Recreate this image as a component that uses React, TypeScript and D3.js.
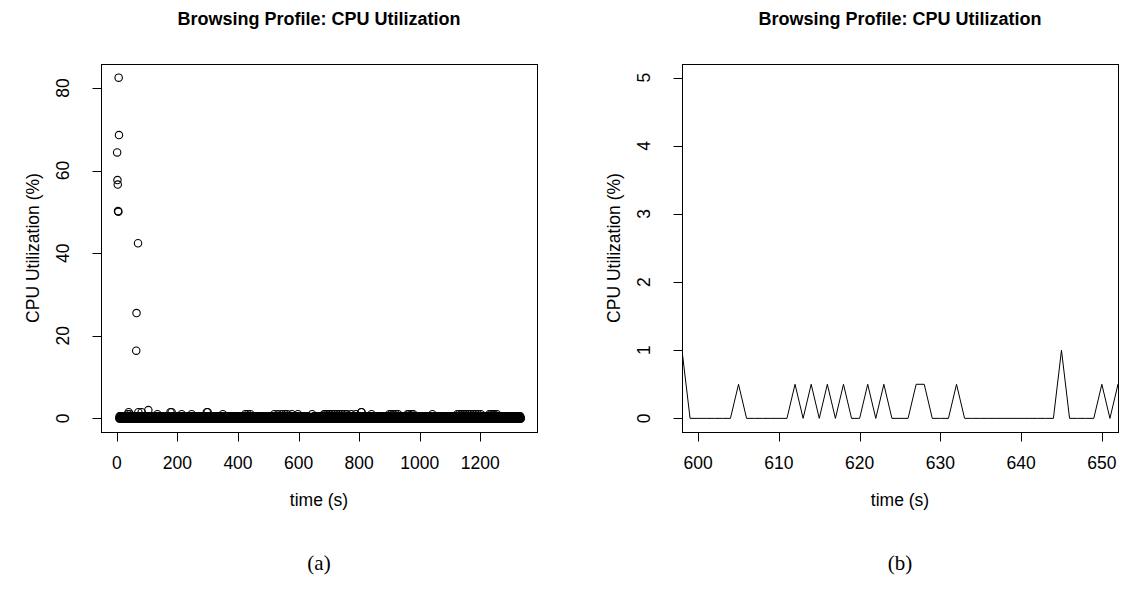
import React from "react";
import * as d3 from "d3";

// ---------- data ----------
// first seconds of the session (start-up spike)
const startupTimes = [1, 2, 3, 4, 5, 6, 7];
const startupValues = [64.4, 57.7, 56.6, 50.2, 50.0, 82.5, 68.6];
// isolated bursts a minute later
const burstTimes = [64, 65, 70];
const burstValues = [16.4, 25.5, 42.4];
// idle phase, one sample per second starting at t = 8,
// each digit is the CPU utilization in steps of 0.5 %
const idleStart = 8;
const idleUnit = 0.5;
const idleRows = [
  "0100101001" + "0001010010" + "1001001020" + "0301020010" + "1001000100", // 8-57
  "0010010100" + "1003001000" + "1010300100" + "0101001000" + "1001004010", // 58-107
  "0100100101" + "0010001001" + "0100102001" + "0010010100" + "1000100101", // 108-157
  "0010100100" + "1001000103" + "0103001001" + "0100100010" + "1001010010", // 158-207
  "0100002001" + "0010100100" + "1001001010" + "0100100102" + "0100100100", // 208-257
  "1001010010" + "0100100010" + "1010010010" + "0100100103" + "0030100100", // 258-307
  "1001001010" + "0100010010" + "0101001001" + "0010010100" + "0020010010", // 308-357
  "0100100101" + "0010010001" + "0100101001" + "0010100100" + "1001001010", // 358-407
  "0100100100" + "1001002010" + "0100200100" + "1002010010" + "0100100100", // 408-457
  "1001000101" + "0010010010" + "0100010010" + "1001001000" + "1001010010", // 458-507
  "0100100100" + "1020010010" + "0100200100" + "1001002010" + "0100100201", // 508-557
  "0010020010" + "0100100100" + "2001001010" + "0100100100" + "2000000100", // 558-607
  "0000101010" + "1001010001" + "1000100000" + "0000000200" + "0010100100", // 608-657
  "1001001010" + "0100100100" + "1001002010" + "0200100201" + "0010200100", // 658-707
  "1002001010" + "0200100102" + "0010010200" + "1001020010" + "0100200100", // 708-757
  "1020010010" + "0100102001" + "0010010010" + "0200100101" + "0010010013", // 758-807
  "3010010010" + "0100100101" + "0010010010" + "0102001001" + "0100100100", // 808-857
  "1001001010" + "0100100100" + "1001001010" + "0100100100" + "1020010020", // 858-907
  "0100200100" + "1002001010" + "0200100100" + "1001001010" + "0100100100", // 908-957
  "1020010200" + "1001020010" + "0201001001" + "0010010010" + "0100100101", // 958-1007
  "0010010010" + "0100100101" + "0010010010" + "0100200100" + "1001001010", // 1008-1057
  "0100100100" + "1001001010" + "0100100100" + "1001001010" + "0100100100", // 1058-1107
  "1001001010" + "0100102001" + "0020010010" + "2001001020" + "0100200100", // 1108-1157
  "1002001010" + "0200100102" + "0010010200" + "1001020010" + "0100200100", // 1158-1207
  "1001001010" + "0100100100" + "1020010200" + "1002001020" + "0100100200", // 1208-1257
  "1001001010" + "0100100100" + "1001001010" + "0100100100" + "1001001010", // 1258-1307
  "0100100100" + "1001001010" + "0100100", // 1308-1334
];

const leftXTicks = [0, 200, 400, 600, 800, 1000, 1200];
const leftYTicks = [0, 20, 40, 60, 80];
const zoomXLim = [600, 650];
const zoomYLim = [0, 5];
const zoomXTicks = [600, 610, 620, 630, 640, 650];
const zoomYTicks = [0, 1, 2, 3, 4, 5];

const titleText = "Browsing Profile: CPU Utilization";
const xLabelText = "time (s)";
const yLabelText = "CPU Utilization (%)";
const captionTexts = ["(a)", "(b)"];

// ---------- build series ----------
type Pt = { t: number; v: number };
const idleCodes = idleRows.join("");
const seriesMap = new Map<number, number>();
startupTimes.forEach((t, i) => seriesMap.set(t, startupValues[i]));
for (let i = 0; i < idleCodes.length; i++) {
  seriesMap.set(idleStart + i, Number(idleCodes[i]) * idleUnit);
}
burstTimes.forEach((t, i) => seriesMap.set(t, burstValues[i]));
const series: Pt[] = Array.from(seriesMap.entries())
  .map(([t, v]) => ({ t, v }))
  .sort((a, b) => a.t - b.t);

const rExtend = (d: [number, number]): [number, number] => {
  const span = d[1] - d[0];
  return [d[0] - 0.04 * span, d[1] + 0.04 * span];
};

const W = 1124;
const H = 590;
const SANS = "'Liberation Sans', Arial, Helvetica, sans-serif";
const SERIF = "'Liberation Serif', 'Times New Roman', serif";
const TICK = 9;
const AXIS_FS = 17.5;

type Box = { left: number; right: number; top: number; bottom: number };

function Frame({
  box,
  x,
  y,
  xTicks,
  yTicks,
  caption,
  children,
  clipId,
}: {
  box: Box;
  x: d3.ScaleLinear<number, number>;
  y: d3.ScaleLinear<number, number>;
  xTicks: number[];
  yTicks: number[];
  caption: string;
  children: React.ReactNode;
  clipId: string;
}) {
  const cx = (box.left + box.right) / 2;
  const cy = (box.top + box.bottom) / 2;
  return (
    <g>
      <defs>
        <clipPath id={clipId}>
          <rect x={box.left} y={box.top} width={box.right - box.left} height={box.bottom - box.top} />
        </clipPath>
      </defs>
      <text x={cx} y={25} textAnchor="middle" fontFamily={SANS} fontWeight="bold" fontSize={18}>
        {titleText}
      </text>
      <g clipPath={`url(#${clipId})`}>{children}</g>
      <rect
        x={box.left + 0.5}
        y={box.top + 0.5}
        width={box.right - box.left}
        height={box.bottom - box.top}
        fill="none"
        stroke="#000"
        strokeWidth={1}
      />
      {xTicks.map((t) => {
        const px = Math.round(x(t)) + 0.5;
        return (
          <g key={"x" + t}>
            <line x1={px} x2={px} y1={box.bottom + 0.5} y2={box.bottom + 0.5 + TICK} stroke="#000" />
            <text x={x(t)} y={463} dy="0.35em" textAnchor="middle" fontFamily={SANS} fontSize={AXIS_FS}>
              {t}
            </text>
          </g>
        );
      })}
      {yTicks.map((t) => {
        const py = Math.round(y(t)) + 0.5;
        return (
          <g key={"y" + t}>
            <line x1={box.left + 0.5 - TICK} x2={box.left + 0.5} y1={py} y2={py} stroke="#000" />
            <text
              transform={`translate(${box.left - 38},${y(t)}) rotate(-90)`}
              dy="0.35em"
              textAnchor="middle"
              fontFamily={SANS}
              fontSize={AXIS_FS}
            >
              {t}
            </text>
          </g>
        );
      })}
      <text x={cx} y={500} dy="0.35em" textAnchor="middle" fontFamily={SANS} fontSize={AXIS_FS}>
        {xLabelText}
      </text>
      <text
        transform={`translate(${box.left - 68},${cy}) rotate(-90)`}
        dy="0.35em"
        textAnchor="middle"
        fontFamily={SANS}
        fontSize={AXIS_FS}
      >
        {yLabelText}
      </text>
      <text x={cx} y={563} dy="0.35em" textAnchor="middle" fontFamily={SERIF} fontSize={21}>
        {caption}
      </text>
    </g>
  );
}

export default function App() {
  const boxA: Box = { left: 101, right: 537, top: 64, bottom: 432 };
  const boxB: Box = { left: 682, right: 1118, top: 64, bottom: 432 };

  const xA = d3
    .scaleLinear()
    .domain(rExtend(d3.extent(series, (d) => d.t) as [number, number]))
    .range([boxA.left, boxA.right]);
  const yA = d3
    .scaleLinear()
    .domain(rExtend(d3.extent(series, (d) => d.v) as [number, number]))
    .range([boxA.bottom, boxA.top]);

  const xB = d3.scaleLinear().domain(rExtend(zoomXLim as [number, number])).range([boxB.left, boxB.right]);
  const yB = d3.scaleLinear().domain(rExtend(zoomYLim as [number, number])).range([boxB.bottom, boxB.top]);
  const [bx0, bx1] = xB.domain();
  const zoomSeries = series.filter((d) => d.t >= bx0 - 1 && d.t <= bx1 + 1);
  const linePath = d3
    .line<Pt>()
    .x((d) => xB(d.t))
    .y((d) => yB(d.v))(zoomSeries) as string;

  return (
    <svg
      width={W}
      height={H}
      viewBox={`0 0 ${W} ${H}`}
      style={{ position: "absolute", left: 0, top: 0, background: "#fff" }}
    >
      <rect x={0} y={0} width={W} height={H} fill="#fff" />
      <Frame box={boxA} x={xA} y={yA} xTicks={leftXTicks} yTicks={leftYTicks} caption={captionTexts[0]} clipId="clipA">
        {series.map((d) => (
          <circle key={d.t} cx={xA(d.t)} cy={yA(d.v)} r={3.7} fill="none" stroke="#000" strokeWidth={1.1} />
        ))}
      </Frame>
      <Frame box={boxB} x={xB} y={yB} xTicks={zoomXTicks} yTicks={zoomYTicks} caption={captionTexts[1]} clipId="clipB">
        <path d={linePath} fill="none" stroke="#000" strokeWidth={1} />
      </Frame>
    </svg>
  );
}
